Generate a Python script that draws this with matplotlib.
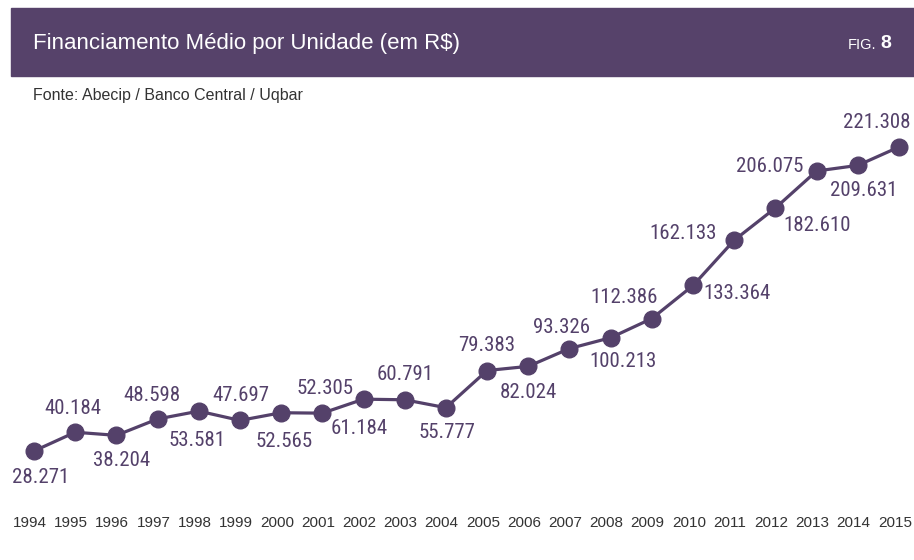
import matplotlib.pyplot as plt
from matplotlib.patches import Rectangle
from matplotlib.transforms import ScaledTranslation

years = list(range(1994, 2016))
valores = [28.271, 40.184, 38.204, 48.598, 53.581, 47.697, 52.565, 52.305,
           61.184, 60.791, 55.777, 79.383, 82.024, 93.326, 100.213, 112.386,
           133.364, 162.133, 182.610, 206.075, 209.631, 221.308]

# label offsets in points (dx, dy) from each marker
offsets = [(5, -19), (-2, 17), (4, -18), (-4, 17), (-1, -21), (1, 18),
           (2, -21), (2, 18), (-3, -21), (0, 18), (1, -18), (0, 18),
           (0, -19), (-6, 15), (9, -17), (-20, 15), (32, -6), (-37, 5),
           (30, -13), (-34, 3), (4, -18), (-16, 18)]

roxo = '#54416a'
texto = '#333333'
fonte = 'Liberation Sans'
fonte_num = ['Roboto Condensed', 'Liberation Sans']

fig = plt.figure(figsize=(9.14, 5.6), dpi=100)

# header bar
fig.patches.append(Rectangle((11 / 914, 1 - 76 / 560), 903 / 914, 68 / 560,
                             transform=fig.transFigure, color='#56426a', zorder=0))
fig.text(33 / 914, 1 - 44 / 560, 'Financiamento Médio por Unidade (em R$)',
         color='white', fontsize=16, family=fonte, va='center')
fig.text(876 / 914, 1 - 45 / 560, 'FIG.', color='white', fontsize=10.5,
         family=fonte, va='center', ha='right')
fig.text(880 / 914, 1 - 44 / 560, '8', color='white', fontsize=14,
         family=fonte, weight='bold', va='center', ha='left')
fig.text(33 / 914, 1 - 95 / 560, 'Fonte: Abecip / Banco Central / Uqbar',
         color=texto, fontsize=11.5, family=fonte, va='center')

ax = fig.add_axes([34 / 914, 1 - 451 / 560, 865 / 914, 304 / 560])
ax.plot(years, valores, color=roxo, lw=2.3, marker='o', ms=12,
        clip_on=False, zorder=3)
ax.set_xlim(years[0], years[-1])
ax.set_ylim(min(valores), max(valores))

for x, v, (dx, dy) in zip(years, valores, offsets):
    ax.annotate(f'{v:.3f}', (x, v), xytext=(dx, dy), textcoords='offset points',
                ha='center', va='center', color=roxo, fontsize=15,
                family=fonte_num)

ax.set_xticks(years)
ax.set_xticklabels([str(y) for y in years], fontsize=11,
                   family=fonte, color=texto)
ax.tick_params(axis='x', length=0, pad=47)
# nudge year labels a little to the left so 2015 stays inside
shift = ScaledTranslation(-3 / 72, 0, fig.dpi_scale_trans)
for lbl in ax.get_xticklabels():
    lbl.set_transform(lbl.get_transform() + shift)
ax.set_yticks([])
for s in ax.spines.values():
    s.set_visible(False)
ax.patch.set_visible(False)

fig.savefig('out.png', dpi=100)
